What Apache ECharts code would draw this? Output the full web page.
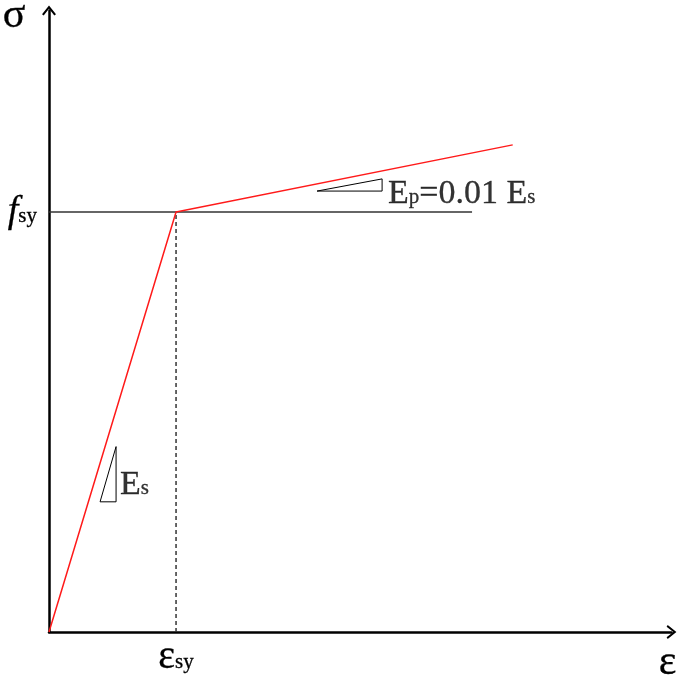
<!DOCTYPE html>
<html>
<head>
<meta charset="utf-8">
<script src="https://cdn.jsdelivr.net/npm/echarts@6/dist/echarts.min.js"></script>
<style>
  html, body { margin: 0; padding: 0; background: #fff; }
  #main { width: 685px; height: 676px; }
</style>
</head>
<body>
<div id="main"></div>
<script>
// strain normalised by eps_sy, stress normalised by f_sy
const bilinear = [[0, 0], [1, 1], [3.65, 1.16]];
const yieldLine = [[0, 1], [3.33, 1]];
const yieldStrain = [[1, 0], [1, 1]];
const esTriangle = [[0.402, 0.31], [0.528, 0.4415], [0.528, 0.31], [0.402, 0.31]];
const epTriangle = [[2.11, 1.05], [2.622, 1.079], [2.622, 1.05], [2.11, 1.05]];
const esLabelAt = [[0.528, 0.31]];
const epLabelAt = [[2.622, 1.05]];
const xTickLabels = { 1: '{e|ε}{s|sy}' };
const yTickLabels = { 1: '{f|f}{s|sy}' };

const SERIF = "'Liberation Serif', 'Times New Roman', serif";
const chevron = 'path://M5 0 L10 6.2 L8.8 7 L5 2.2 L1.2 7 L0 6.2 Z';

const axisCommon = {
    type: 'value',
    min: 0,
    splitLine: { show: false },
    axisTick: { show: false },
    axisLine: {
        show: true,
        onZero: false,
        symbol: ['none', chevron],
        symbolSize: [14, 13],
        lineStyle: { color: '#000', width: 2.5 }
    }
};

// a thin outline of the same colour makes the serif text a bit heavier
const ink = { fontFamily: SERIF, color: '#000', textBorderColor: '#000', textBorderWidth: 0.3 };
const txt = (size, extra) => Object.assign({}, ink, { fontSize: size }, extra || {});
const subStyle = txt(21, { verticalAlign: 'bottom', padding: [0, 0, 3, 0] });

const config = () => {
    return {
        animation: false,
        backgroundColor: '#fff',
        grid: { left: 49, right: 13.5, top: 10.5, bottom: 44, containLabel: false, outerBoundsMode: 'none' },
        xAxis: Object.assign({}, axisCommon, {
            max: 4.9,
            interval: 1,
            name: 'ε',
            nameLocation: 'end',
            nameGap: -4,
            nameTextStyle: txt(42, { align: 'center', verticalAlign: 'top', padding: [10, 0, 0, 0] }),
            axisLabel: {
                margin: 6,
                showMaxLabel: false,
                formatter: v => xTickLabels[v] || '',
                rich: {
                    e: txt(40, { lineHeight: 38 }),
                    s: subStyle
                }
            }
        }),
        yAxis: Object.assign({}, axisCommon, {
            max: 1.48,
            interval: 0.5,
            name: 'σ',
            nameLocation: 'end',
            nameGap: 16,
            nameTextStyle: txt(42, { align: 'center', verticalAlign: 'top', padding: [0, 0, 0, -70] }),
            axisLabel: {
                margin: 12,
                showMaxLabel: false,
                formatter: v => yTickLabels[v] || '',
                rich: {
                    f: txt(38, { fontStyle: 'italic', lineHeight: 36 }),
                    s: subStyle
                }
            }
        }),
        series: [
            {
                name: 'yield',
                type: 'line',
                data: yieldLine,
                symbol: 'none',
                lineStyle: { color: '#333', width: 1.5 }
            },
            {
                name: 'eps_sy',
                type: 'line',
                data: yieldStrain,
                symbol: 'none',
                lineStyle: { color: '#333', width: 1.5, type: [4, 3] }
            },
            {
                name: 'steel',
                type: 'line',
                data: bilinear,
                symbol: 'none',
                lineStyle: { color: '#ff1a1a', width: 1.5 }
            },
            {
                name: 'Es',
                type: 'line',
                data: esTriangle,
                symbol: 'none',
                lineStyle: { color: '#000', width: 1 }
            },
            {
                name: 'Ep',
                type: 'line',
                data: epTriangle,
                symbol: 'none',
                lineStyle: { color: '#000', width: 1 }
            },
            {
                type: 'scatter',
                data: esLabelAt,
                symbolSize: 0,
                label: {
                    show: true,
                    position: [4, 0],
                    align: 'left',
                    verticalAlign: 'bottom',
                    formatter: '{E|E}{s|s}',
                    rich: {
                        E: txt(34, { lineHeight: 34 }),
                        s: subStyle
                    }
                }
            },
            {
                type: 'scatter',
                data: epLabelAt,
                symbolSize: 0,
                label: {
                    show: true,
                    position: [6, 20],
                    align: 'left',
                    verticalAlign: 'bottom',
                    formatter: '{E|E}{s|p}{E|=0.01 E}{s|s}',
                    rich: {
                        E: txt(34, { lineHeight: 34 }),
                        s: subStyle
                    }
                }
            }
        ]
    };
};

const myChart = echarts.init(document.getElementById('main'));
myChart.setOption(config());
</script>
</body>
</html>
